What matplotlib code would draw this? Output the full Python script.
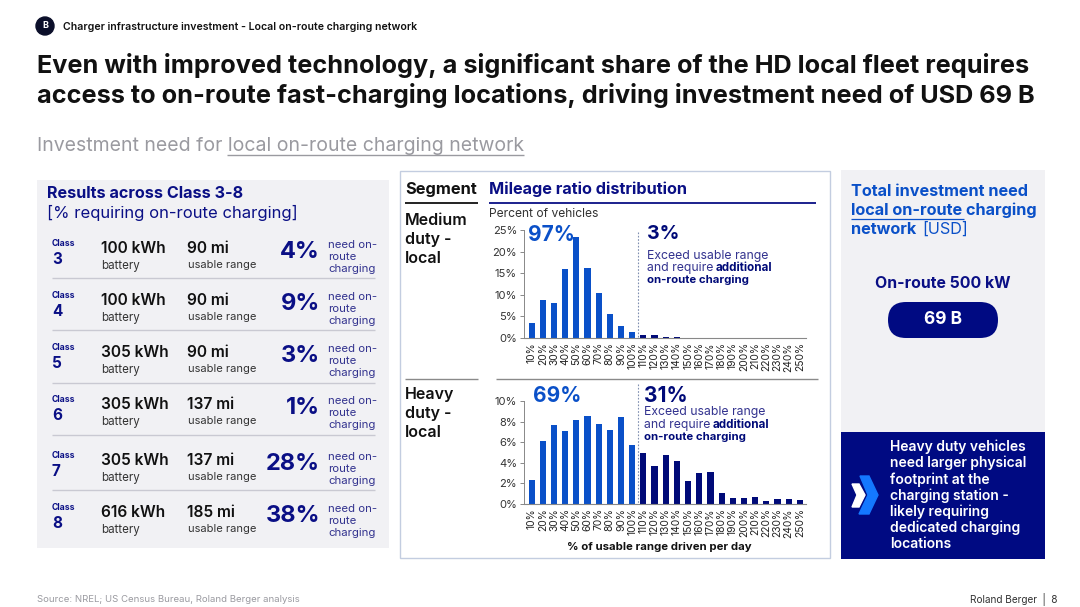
import matplotlib
matplotlib.use('Agg')
import matplotlib.pyplot as plt
from matplotlib.patches import Rectangle, Polygon, FancyBboxPatch, Circle

# data
range_labels = [f"{v}%" for v in range(10, 260, 10)]
medium_duty = [3.5, 8.7, 8.2, 16.0, 23.3, 16.3, 10.5, 5.6, 2.7, 1.4, 0.8, 0.7, 0.2, 0.15, 0.05,
               0.03, 0.02, 0.02, 0.01, 0.01, 0.01, 0.01, 0.01, 0.01, 0.01]
heavy_duty = [2.3, 6.1, 7.7, 7.1, 8.2, 8.5, 7.75, 7.2, 8.4, 5.7, 5.0, 3.7, 4.75, 4.2, 2.2, 3.0, 3.1,
              1.05, 0.55, 0.55, 0.65, 0.25, 0.5, 0.5, 0.35]
class_names = ['3', '4', '5', '6', '7', '8']
battery = ['100 kWh', '100 kWh', '305 kWh', '305 kWh', '305 kWh', '616 kWh']
usable_range = ['90 mi', '90 mi', '90 mi', '137 mi', '137 mi', '185 mi']
share = ['4%', '9%', '3%', '1%', '28%', '38%']
row_y = [243, 295, 347, 399, 455, 507]

NAVY = '#0a0f85'
BLUE = '#0a50c8'
DARK = '#000a78'
INK = '#111111'
GREY = '#f1f1f4'
W, H = 1080, 607

plt.rcParams['font.family'] = ['Inter', 'DejaVu Sans']
fig = plt.figure(figsize=(W / 100, H / 100), dpi=100, facecolor='white')

# overlay in pixel coordinates, for everything around the charts
bg = fig.add_axes([0, 0, 1, 1])
bg.set_xlim(0, W)
bg.set_ylim(H, 0)
bg.axis('off')


def txt(x, y, s, size=9, color=INK, weight='normal', **kw):
    kw.setdefault('va', 'center')
    bg.text(x, y, s, fontsize=size, color=color, fontweight=weight, **kw)


def hline(x0, x1, y, color='#c9c9d2', lw=1.0):
    bg.plot([x0, x1], [y, y], color=color, lw=lw, solid_capstyle='butt')


# header
bg.add_patch(Circle((45, 26), 9, color='#0b0f2a'))
txt(45, 26, 'B', 6.5, 'white', 'bold', ha='center')
txt(63, 26.5, 'Charger infrastructure investment - Local on-route charging network', 7.6, INK, 'semibold')
txt(37, 65, 'Even with improved technology, a significant share of the HD local fleet requires', 18.2, INK, 'bold')
txt(37, 95, 'access to on-route fast-charging locations, driving investment need of USD 69 B', 18.2, INK, 'bold')
txt(37, 146, 'Investment need for local on-route charging network', 14, '#9a9aa0')
hline(227, 524, 155, '#9a9aa0', 1.0)

# panels
bg.add_patch(Rectangle((37, 180), 352, 368, color=GREY, lw=0))
bg.add_patch(Rectangle((400, 171), 430, 387, fc='white', ec='#c3cde0', lw=1.0))
bg.add_patch(Rectangle((841, 170), 204, 262, color=GREY, lw=0))
bg.add_patch(Rectangle((841, 432), 204, 127, color='#000a82', lw=0))

# left table
txt(47, 193.5, 'Results across Class 3-8', 11.6, NAVY, 'bold')
txt(47, 212.5, '[% requiring on-route charging]', 12, NAVY)
for i, y in enumerate(row_y):
    txt(52, y + 0.5, 'Class', 6.2, NAVY, 'bold')
    txt(52, y + 16.5, class_names[i], 11, NAVY, 'bold')
    txt(101, y + 5.5, battery[i], 11.2, INK, 'semibold')
    txt(101, y + 22.5, 'battery', 8.3, '#333333')
    txt(187, y + 5.5, usable_range[i], 11.2, INK, 'semibold')
    txt(188, y + 22.5, 'usable range', 8, '#333333')
    txt(320, y + 9.5, share[i], 17, NAVY, 'bold', ha='right')
    txt(328, y + 2.5, 'need on-', 8.2, '#33338f')
    txt(328, y + 14.5, 'route', 8.2, '#33338f')
    txt(328, y + 26.5, 'charging', 8.2, '#33338f')
for y in [278, 330, 383, 435, 490]:
    hline(52, 375, y)

# middle headings
txt(405, 189.5, 'Segment', 11.8, INK, 'bold')
txt(489, 189.5, 'Mileage ratio distribution', 11.7, NAVY, 'bold')
hline(405, 478, 203, INK, 1.3)
hline(489, 816, 203, NAVY, 1.3)
hline(405, 478, 379, '#8a8a8a', 1.0)
hline(496, 818, 379, '#8a8a8a', 1.0)
for y, s in zip([220.5, 239.5, 258.5], ['Medium', 'duty -', 'local']):
    txt(405, y, s, 11.5, INK, 'semibold')
for y, s in zip([394.5, 413.5, 432.5], ['Heavy', 'duty -', 'local']):
    txt(405, y, s, 11.5, INK, 'semibold')
txt(489, 214, 'Percent of vehicles', 8.7, '#333333')
txt(528, 235, '97%', 15, BLUE, 'bold')
txt(647, 234, '3%', 14, DARK, 'bold')
txt(647, 255.5, 'Exceed usable range', 8.8, '#33338f')
txt(647, 271, 'and require', 8.8, '#33338f', va='baseline')
txt(716, 271, 'additional', 8.4, DARK, 'bold', va='baseline')
txt(647, 280, 'on-route charging', 8.2, DARK, 'bold')
txt(533, 396, '69%', 15, BLUE, 'bold')
txt(644, 396.5, '31%', 15, DARK, 'bold')
txt(644, 412.5, 'Exceed usable range', 8.8, '#33338f')
txt(644, 428, 'and require', 8.8, '#33338f', va='baseline')
txt(713, 428, 'additional', 8.4, DARK, 'bold', va='baseline')
txt(644, 437, 'on-route charging', 8.2, DARK, 'bold')
txt(659, 547.5, '% of usable range driven per day', 8.2, INK, 'bold', ha='center')
bg.plot([637.5, 637.5], [232, 338], color='#7f8fb0', lw=0.8, ls=(0, (1.5, 1.5)))
bg.plot([637.5, 637.5], [384, 504], color='#7f8fb0', lw=0.8, ls=(0, (1.5, 1.5)))


# bar charts
def bar_chart(values, ymax, step, top, bottom):
    left, right = 524, 806
    ax = fig.add_axes([left / W, 1 - bottom / H, (right - left) / W, (bottom - top) / H])
    ax.patch.set_alpha(0)
    colors = [BLUE if i < 10 else DARK for i in range(len(values))]
    ax.bar(range(len(values)), values, width=0.55, color=colors)
    ax.set_xlim(-0.68, 24.55)
    ax.set_ylim(0, ymax)
    ax.set_xticks(range(len(values)))
    ax.set_xticklabels(range_labels, rotation=90, fontsize=7.4, color='#222222')
    ax.set_yticks(range(0, ymax + 1, step))
    ax.set_yticklabels([f"{v}%" for v in range(0, ymax + 1, step)], fontsize=8, color='#333333')
    ax.tick_params(axis='x', length=0, pad=3)
    ax.tick_params(axis='y', length=3, width=0.7, color='#888888', pad=2)
    for side in ['top', 'right']:
        ax.spines[side].set_visible(False)
    ax.spines['left'].set_color('#888888')
    ax.spines['bottom'].set_color('#888888')
    ax.spines['left'].set_linewidth(0.7)
    ax.spines['bottom'].set_linewidth(0.8)


bar_chart(medium_duty, 25, 5, 230, 338)
bar_chart(heavy_duty, 10, 2, 401, 504)

# right column
for y, s in zip([191, 210, 229], ['Total investment need', 'local on-route charging', 'network']):
    txt(851, y, s, 11.7, '#0a50c8', 'bold')
txt(922, 229, '[USD]', 11.7, '#0a50c8')
hline(851, 964, 219, '#0a50c8', 0.9)
txt(943, 283.5, 'On-route 500 kW', 11.4, NAVY, 'bold', ha='center')
bg.add_patch(FancyBboxPatch((888, 302), 110, 36, boxstyle='round,pad=0,rounding_size=18', fc='#000a82', ec='none'))
txt(943, 320, '69 B', 12.5, 'white', 'bold', ha='center')
callout = ['Heavy duty vehicles', 'need larger physical', 'footprint at the', 'charging station -',
           'likely requiring', 'dedicated charging', 'locations']
for i, s in enumerate(callout):
    txt(890, 447 + i * 16.2, s, 10, 'white', 'semibold')
bg.add_patch(Polygon([(860, 476), (869, 476), (878, 495), (869, 514), (859, 514), (868, 495)], color='#1478ff'))
bg.add_patch(Polygon([(852, 484), (859, 484), (865, 495), (859, 507), (852, 507), (857, 495)], color='white'))

# footer
txt(37, 599.5, 'Source: NREL; US Census Bureau, Roland Berger analysis', 6.9, '#9a9aa0')
txt(1058, 599.5, 'Roland Berger  |  8', 7.2, '#333333', ha='right')

fig.savefig('out.png', dpi=100)
